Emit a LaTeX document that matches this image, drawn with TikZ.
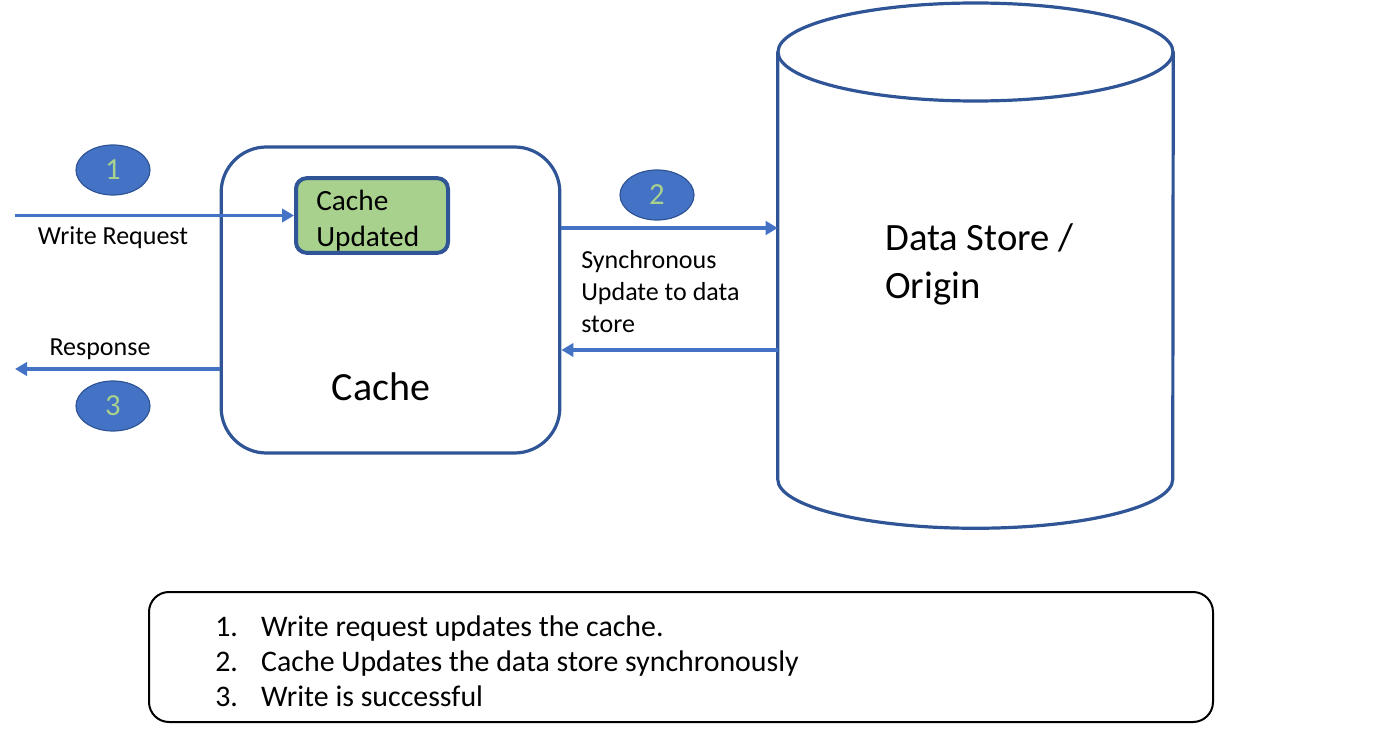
\documentclass[tikz,border=0pt]{standalone}
\usepackage{fontspec}
\setmainfont{Carlito}
\usetikzlibrary{arrows.meta,shapes.geometric}
\definecolor{arrowblue}{HTML}{4472C4}
\definecolor{edgeblue}{HTML}{2F5597}
\definecolor{leafgreen}{HTML}{A9D18E}
\begin{document}
\begin{tikzpicture}[x=0.75pt,y=-0.75pt,
  cachebox/.style={draw=edgeblue, line width=2.4pt, rounded corners=34pt, minimum width=254pt, minimum height=229.5pt, inner sep=0pt},
  updbox/.style={draw=edgeblue, fill=leafgreen, line width=3pt, rounded corners=8pt, minimum width=114pt, minimum height=56pt, inner sep=0pt},
  stepnum/.style={ellipse, draw=edgeblue, fill=arrowblue, line width=0.9pt, minimum width=55.5pt, minimum height=37.5pt, inner sep=0pt, text=leafgreen, font=\fontsize{23}{27}\selectfont},
  smalllabel/.style={inner sep=0pt, font=\fontsize{19.5}{24}\selectfont, align=left},
  flow/.style={draw=arrowblue, line width=2.6pt, -{Triangle[length=9pt,width=10pt]}},
  cyl/.style={draw=edgeblue, line width=2.4pt},
  notebox/.style={draw=black, line width=1.5pt, rounded corners=15pt, minimum width=798pt, minimum height=97.5pt, inner sep=0pt}
]
\useasboundingbox (0,0) rectangle (1400,734);

% Cache
\node[cachebox] (cache) at (390.5,300) {};
\node[inner sep=0pt, font=\fontsize{30}{36}\selectfont] (cachelbl) at (381,387) {Cache};
\node[updbox] (upd) at (372,215.5) {};
\node[anchor=west, inner sep=0pt, align=left, font=\fontsize{22}{27}\selectfont] (updlbl) at (316,220.5) {Cache\\Updated};

% Data store cylinder
\node[inner sep=0pt, minimum width=296.25pt, minimum height=320.25pt] (ds) at (975.5,265.5) {};
\draw[cyl] (975.5,52) ellipse [x radius=148.125pt, y radius=36.75pt];
\draw[cyl] (ds.north west) -- (ds.south west)
  arc[start angle=180, end angle=360, x radius=148.125pt, y radius=36.75pt]
  -- (ds.north east);
\node[anchor=west, inner sep=0pt, align=left, font=\fontsize{29}{36}\selectfont] (dslbl) at (885,264) {Data Store /\\Origin};

% step markers
\node[stepnum] (s1) at (113,170) {1};
\node[stepnum] (s2) at (657,195) {2};
\node[stepnum] (s3) at (113,406) {3};

% coordinates
\coordinate (wrS) at (15,215.5);
\coordinate (rsE) at (15,369);
\coordinate (y2) at (0,228);
\coordinate (y3) at (0,350);
\coordinate (yr) at (0,369);

% connectors
\draw[flow] (wrS) -- (upd.west);
\draw[flow] (cache.west |- yr) -- (rsE);
\draw[flow] (cache.east |- y2) -- (ds.west |- y2);
\draw[flow] (ds.west |- y3) -- (cache.east |- y3);

% labels
\node[smalllabel] (wrlbl) at (113,238) {Write Request};
\node[smalllabel] (rslbl) at (100,349) {Response};
\node[smalllabel, anchor=west] (synclbl) at (581,292) {Synchronous\\Update to data\\store};

% notes
\node[notebox] (notes) at (681,657) {};
\node[anchor=west, inner sep=0pt, align=left, font=\fontsize{22.4}{26.25}\selectfont] (notetxt) at (215,661)
  {\makebox[34.5pt][l]{1.}Write request updates the cache.\\
   \makebox[34.5pt][l]{2.}Cache Updates the data store synchronously\\
   \makebox[34.5pt][l]{3.}Write is successful};
\end{tikzpicture}
\end{document}
